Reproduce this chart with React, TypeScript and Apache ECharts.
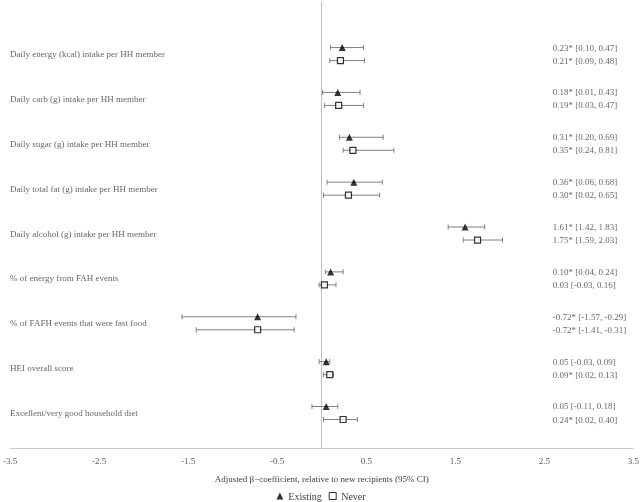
import React, { useEffect, useRef } from "react";
import * as echarts from "echarts";

const categories = [
  "Daily energy (kcal) intake per HH member",
  "Daily carb (g) intake per HH member",
  "Daily sugar (g) intake per HH member",
  "Daily total fat (g) intake per HH member",
  "Daily alcohol (g) intake per HH member",
  "% of energy from FAH events",
  "% of FAFH events that were fast food",
  "HEI overall score",
  "Excellent/very good household diet",
];

const existingEst = [0.23, 0.18, 0.31, 0.36, 1.61, 0.10, -0.72, 0.05, 0.05];
const existingLo = [0.10, 0.01, 0.20, 0.06, 1.42, 0.04, -1.57, -0.03, -0.11];
const existingHi = [0.47, 0.43, 0.69, 0.68, 1.83, 0.24, -0.29, 0.09, 0.18];
const existingSig = [true, true, true, true, true, true, true, false, false];

const neverEst = [0.21, 0.19, 0.35, 0.30, 1.75, 0.03, -0.72, 0.09, 0.24];
const neverLo = [0.09, 0.03, 0.24, 0.02, 1.59, -0.03, -1.41, 0.02, 0.02];
const neverHi = [0.48, 0.47, 0.81, 0.65, 2.03, 0.16, -0.31, 0.13, 0.40];
const neverSig = [true, true, true, true, true, false, true, true, true];

const xTicks = [-3.5, -2.5, -1.5, -0.5, 0.5, 1.5, 2.5, 3.5];

const FONT = "'Liberation Serif', 'Times New Roman', serif";
const TEXT = "#404040";
const OFFSET = 0.145;
const LABEL_X = 2.595;

const fmt = (v: number) => v.toFixed(2);
const ciText = (e: number, lo: number, hi: number, s: boolean) =>
  `${fmt(e)}${s ? "*" : ""} [${fmt(lo)}, ${fmt(hi)}]`;

export default function App() {
  const ref = useRef<HTMLDivElement>(null);
  useEffect(() => {
    if (!ref.current) return;
    const chart = echarts.init(ref.current, null, { renderer: "svg" });

    const errData = (lo: number[], hi: number[], off: number) =>
      lo.map((l, i) => [l, hi[i], i + off]);

    const renderErr = (params: any, api: any) => {
      const lo = api.value(0);
      const hi = api.value(1);
      const y = api.value(2);
      const a = api.coord([lo, y]);
      const b = api.coord([hi, y]);
      const h = 2.5;
      const style = { stroke: "#808080", lineWidth: 1 };
      return {
        type: "group",
        children: [
          { type: "line", shape: { x1: a[0], y1: a[1], x2: b[0], y2: b[1] }, style },
          { type: "line", shape: { x1: a[0], y1: a[1] - h, x2: a[0], y2: a[1] + h }, style },
          { type: "line", shape: { x1: b[0], y1: b[1] - h, x2: b[0], y2: b[1] + h }, style },
        ],
      };
    };

    const labelSeries = (texts: string[], x: number, ys: number[]) => ({
      type: "scatter",
      silent: true,
      symbolSize: 0,
      legendHoverLink: false,
      data: texts.map((t, i) => ({ value: [x, ys[i]], name: t })),
      label: {
        show: true,
        position: "right",
        distance: 0,
        formatter: (p: any) => p.name,
        fontFamily: FONT,
        fontSize: 9,
        color: TEXT,
      },
      z: 1,
    });

    chart.setOption({
      animation: false,
      grid: { left: 8, right: 8, top: 2, bottom: 54, containLabel: false },
      legend: {
        top: 486,
        left: "center",
        itemWidth: 7,
        itemHeight: 7,
        itemGap: 7,
        textStyle: { fontFamily: FONT, fontSize: 10, color: TEXT },
        data: [
          { name: "Existing", icon: "triangle", itemStyle: { color: "#000" } },
          { name: "Never", icon: "rect", itemStyle: { color: "#fff", borderColor: "#000", borderWidth: 1 } },
        ],
      },
      xAxis: {
        type: "value",
        min: -3.5,
        max: 3.5,
        interval: 0.5,
        name: "Adjusted β\u2212coefficient, relative to new recipients (95% CI)",
        nameLocation: "middle",
        nameGap: 26,
        nameTextStyle: { fontFamily: FONT, fontSize: 9, color: TEXT },
        axisLine: { show: true, onZero: false, lineStyle: { color: "#c8c8c8", width: 1 } },
        axisTick: { show: false },
        splitLine: { show: false },
        axisLabel: {
          customValues: xTicks,
          formatter: (v: number) => v.toFixed(1),
          fontFamily: FONT,
          fontSize: 9,
          color: "#595959",
          margin: 8,
        },
      },
      yAxis: {
        type: "value",
        inverse: true,
        min: -1.16,
        max: 8.78,
        axisLine: { show: true, onZero: true, lineStyle: { color: "#c0c0c0", width: 1 } },
        axisTick: { show: false },
        axisLabel: { show: false },
        splitLine: { show: false },
      },
      series: [
        {
          type: "custom",
          name: "errExisting",
          renderItem: renderErr,
          data: errData(existingLo, existingHi, -OFFSET),
          z: 2,
          silent: true,
        },
        {
          type: "custom",
          name: "errNever",
          renderItem: renderErr,
          data: errData(neverLo, neverHi, OFFSET),
          z: 2,
          silent: true,
        },
        {
          type: "scatter",
          name: "Existing",
          symbol: "triangle",
          symbolSize: 7,
          itemStyle: { color: "#000" },
          data: existingEst.map((v, i) => [v, i - OFFSET]),
          z: 3,
        },
        {
          type: "scatter",
          name: "Never",
          symbol: "rect",
          symbolSize: 6,
          itemStyle: { color: "#fff", borderColor: "#000", borderWidth: 1.2 },
          data: neverEst.map((v, i) => [v, i + OFFSET]),
          z: 3,
        },
        labelSeries(
          categories,
          -3.5,
          categories.map((_, i) => i)
        ),
        labelSeries(
          existingEst.map((e, i) => ciText(e, existingLo[i], existingHi[i], existingSig[i])),
          LABEL_X,
          existingEst.map((_, i) => i - OFFSET)
        ),
        labelSeries(
          neverEst.map((e, i) => ciText(e, neverLo[i], neverHi[i], neverSig[i])),
          LABEL_X,
          neverEst.map((_, i) => i + OFFSET)
        ),
      ],
    });
    return () => chart.dispose();
  }, []);
  return (
    <div
      ref={ref}
      style={{ position: "fixed", left: 0, top: 0, width: 642, height: 502 }}
    />
  );
}
